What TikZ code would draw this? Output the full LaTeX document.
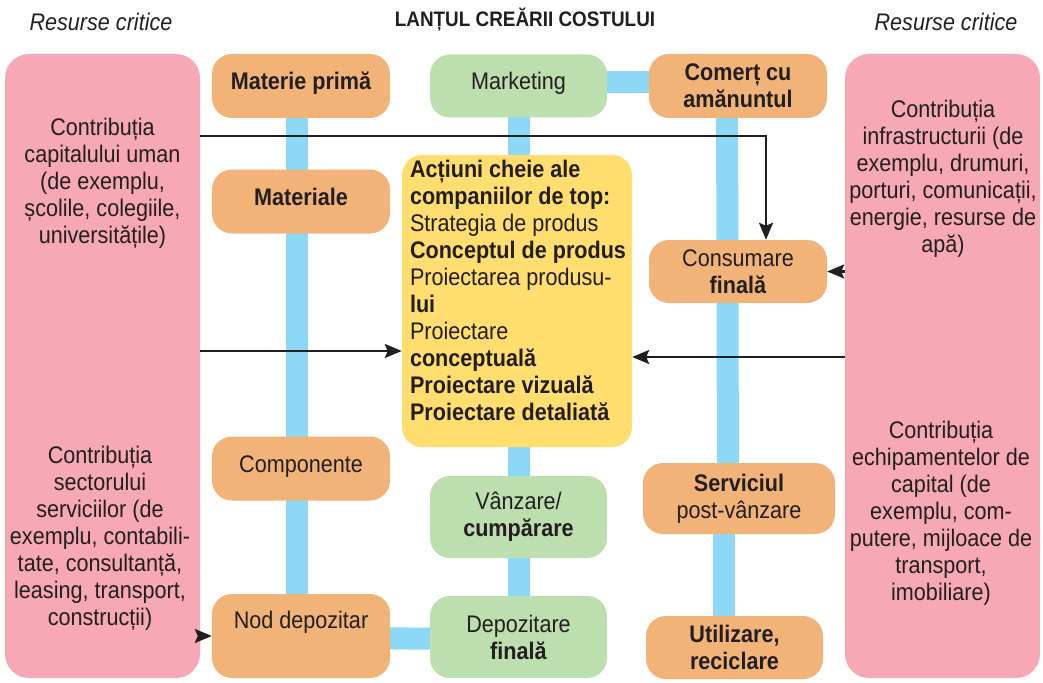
\documentclass[tikz,border=0pt]{standalone}
\usepackage{fontspec}
\setmainfont{Liberation Sans}[FakeStretch=0.9]
\usetikzlibrary{arrows.meta,backgrounds}
\definecolor{resPink}{RGB}{246,168,181}
\definecolor{linkOrange}{RGB}{242,179,120}
\definecolor{linkGreen}{RGB}{189,222,174}
\definecolor{keyYellow}{RGB}{255,221,110}
\definecolor{chainBlue}{RGB}{140,216,246}
\definecolor{ink}{RGB}{35,31,32}
\tikzset{
	txt/.style={font=\fontsize{24}{27}\selectfont, text=ink, align=center, inner sep=0pt},
	bold/.style={font=\fontsize{24}{27}\selectfont\bfseries},
	oneline/.style={text height=18pt, text depth=10pt},
	res/.style={fill=resPink, rounded corners=24pt, minimum width=195pt, minimum height=624pt, inner sep=0pt},
	orangebox/.style={txt, fill=linkOrange, rounded corners=20pt, minimum width=178pt, minimum height=64pt},
	greenbox/.style={txt, fill=linkGreen, rounded corners=20pt, minimum width=177pt, minimum height=63pt},
	keybox/.style={fill=keyYellow, rounded corners=20pt, minimum width=230pt, minimum height=292pt, inner sep=0pt},
	chain/.style={chainBlue, line width=22pt},
	feed/.style={ink, line width=2.4pt, -{Stealth[length=17pt,width=14pt,inset=3pt]}},
}

\begin{document}
\begin{tikzpicture}[x=1pt, y=-1pt]
			%%%%% START %%%%%
			\useasboundingbox (0,0) rectangle (1043,682);
			
			% titles
			\node[txt, font=\fontsize{21}{24}\selectfont\bfseries] (title) at (525,20) {LANȚUL CREĂRII COSTULUI};
			\node[txt, font=\fontsize{24}{27}\selectfont\itshape] (resTitleL) at (101,22) {Resurse critice};
			\node[txt, font=\fontsize{24}{27}\selectfont\itshape] (resTitleR) at (946,22) {Resurse critice};
			
			% critical resources
			\node[res] (resL) at (102.5,366) {};
			\node[res] (resR) at (942.5,366) {};
			\node[txt] (capU) at (102.5,183) {Contribuția\\capitalului uman\\(de exemplu,\\școlile, colegiile,\\universitățile)};
			\node[txt] (servL) at (100,538) {Contribuția\\sectorului\\serviciilor (de\\exemplu, contabili-\\tate, consultanță,\\leasing, transport,\\construcții)};
			\node[txt] (infR) at (943,179) {Contribuția\\infrastructurii (de\\exemplu, drumuri,\\porturi, comunicații,\\energie, resurse de\\apă)};
			\node[txt] (echR) at (941,513) {Contribuția\\echipamentelor de\\capital (de\\exemplu, com-\\putere, mijloace de\\transport,\\imobiliare)};
			
			% first column
			\node[orangebox, bold, oneline] (mat) at (301,86) {Materie primă};
			\node[orangebox, bold, oneline] (matl) at (301,201.5) {Materiale};
			\node[orangebox, oneline] (comp) at (301,468.5) {Componente};
			\node[orangebox, minimum height=84pt, text depth=32pt] (nod) at (301,636) {Nod depozitar};
			
			% second column
			\node[greenbox, oneline] (mkt) at (518.5,86) {Marketing};
			\node[keybox] (yel) at (517,301) {};
			\node[txt, align=left, anchor=north west] (keytxt) at ([shift={(8pt,-5pt)}]yel.north west) {%
				\textbf{Acțiuni cheie ale}\\\textbf{companiilor de top:}\\Strategia de produs\\\textbf{Conceptul de produs}\\Proiectarea produsu-\\\textbf{lui}\\Proiectare\\\textbf{conceptuală}\\\textbf{Proiectare vizuală}\\\textbf{Proiectare detaliată}};
			\node[greenbox, minimum height=82pt] (vanz) at (518.5,517) {Vânzare/\\\textbf{cumpărare}};
			\node[greenbox, minimum height=82pt] (depf) at (518.5,637) {Depozitare\\\textbf{finală}};
			
			% third column
			\node[orangebox, bold] (com) at (738,86) {Comerț cu\\amănuntul};
			\node[orangebox, minimum height=63pt] (cons) at (738,271.5) {Consumare\\\textbf{finală}};
			\node[orangebox, minimum width=192pt, minimum height=71pt] (serv) at (739,498.5) {\textbf{Serviciul}\\post-vânzare};
			\node[orangebox, bold, minimum width=177pt, minimum height=63pt] (util) at (734.5,647.5) {Utilizare,\\reciclare};
			
			% chain links
			\begin{scope}[on background layer]
				\draw[chain] ([xshift=-4pt]mat.center) -- ([xshift=-4pt]nod.center);
				\draw[chain] (mkt.center) -- (depf.center);
				\draw[chain] ([xshift=-11pt]com.center) -- ([xshift=-11pt]serv.center);
				\draw[chain] ([xshift=-15.5pt]serv.center) -- ([xshift=-11pt]util.center);
				\draw[chain] ([yshift=4pt]mkt.center) -- ([yshift=4pt]com.center);
				\draw[chain] ([yshift=-2pt]nod.center) -- ([yshift=-2pt]depf.center);
			\end{scope}
			
			% resource arrows
			\draw[feed] (resL.east |- 0,136) -| ([xshift=28pt]cons.north);
			\draw[feed] (resL.east |- 0,351) -- (yel.west |- 0,351);
			\draw[feed] (resR.west |- cons.east) -- (cons.east);
			\draw[feed] (resR.west |- 0,357) -- (yel.east |- 0,357);
			\draw[feed] (resL.east |- nod.west) -- (nod.west);
			
			%%%%% END %%%%%
\end{tikzpicture}
\end{document}
